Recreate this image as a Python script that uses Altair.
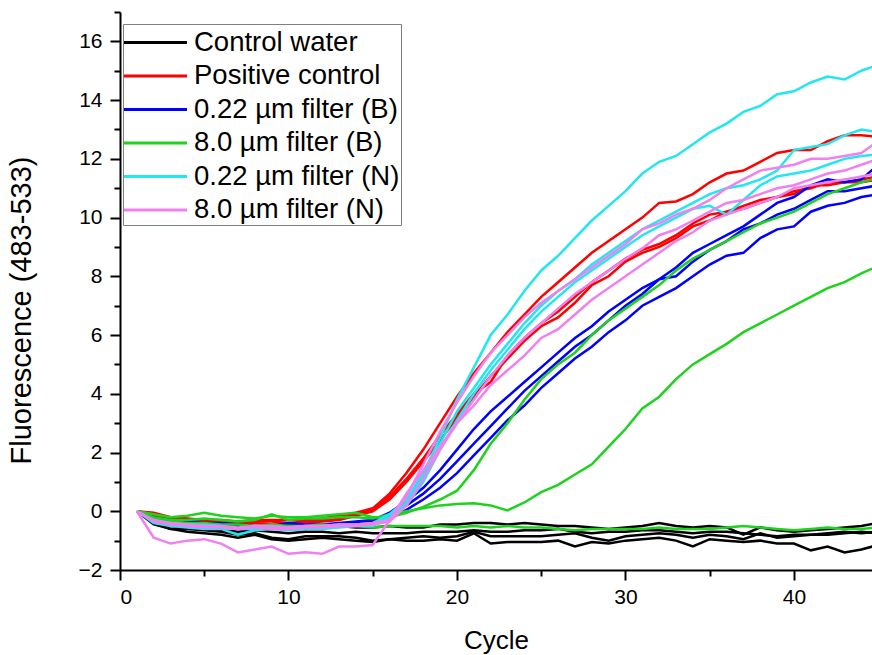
import altair as alt
import pandas as pd

cycles = list(range(1, 46))

series_names = ["Control water", "Positive control", "0.22 µm filter (B)",
                "8.0 µm filter (B)", "0.22 µm filter (N)", "8.0 µm filter (N)"]
series_colors = ["#000000", "#ff0000", "#0000ff", "#1ed21e", "#22e6f0", "#f080f0"]

water_1 = [0.0, -0.3, -0.4, -0.45, -0.5, -0.45, -0.5, -0.55, -0.5, -0.55, -0.55, -0.5, -0.5, -0.55, -0.55,
           -0.5, -0.55, -0.55, -0.45, -0.45, -0.4, -0.4, -0.45, -0.4, -0.45, -0.5, -0.5, -0.55, -0.6, -0.55,
           -0.5, -0.4, -0.5, -0.55, -0.5, -0.55, -0.8, -0.55, -0.65, -0.7, -0.65, -0.6, -0.55, -0.5, -0.4]
water_2 = [0.0, -0.35, -0.5, -0.55, -0.6, -0.65, -0.7, -0.65, -0.7, -0.75, -0.7, -0.7, -0.75, -0.7, -0.75,
           -0.75, -0.75, -0.7, -0.7, -0.7, -0.65, -0.7, -0.7, -0.65, -0.65, -0.6, -0.7, -0.75, -0.7, -0.7,
           -0.65, -0.65, -0.7, -0.75, -0.7, -0.7, -0.75, -0.8, -0.85, -0.8, -0.8, -0.75, -0.7, -0.75, -0.7]
water_3 = [0.0, -0.4, -0.6, -0.6, -0.65, -0.7, -0.8, -0.75, -0.9, -0.95, -0.85, -0.85, -0.85, -0.9, -1.0,
           -0.95, -0.9, -0.85, -0.9, -0.85, -0.7, -0.85, -0.85, -0.85, -0.85, -0.8, -0.75, -0.9, -1.0, -0.85,
           -0.8, -0.75, -0.8, -0.9, -0.8, -0.85, -0.95, -0.75, -0.9, -0.85, -0.8, -0.8, -0.75, -0.7, -0.75]
water_4 = [0.0, -0.45, -0.6, -0.7, -0.75, -0.8, -0.9, -0.8, -0.95, -1.0, -0.95, -0.9, -0.95, -1.0, -1.05,
           -0.95, -1.0, -1.0, -0.95, -1.0, -0.75, -1.1, -1.05, -1.05, -1.05, -1.0, -1.2, -1.05, -1.1, -1.0,
           -0.95, -0.9, -1.0, -1.2, -0.95, -1.0, -1.05, -1.0, -1.1, -1.1, -1.33, -1.2, -1.4, -1.3, -1.15]

pos_1 = [0.0, -0.05, -0.2, -0.25, -0.3, -0.3, -0.35, -0.3, -0.3, -0.3, -0.3, -0.25, -0.15, -0.05, 0.1,
         0.6, 1.3, 2.1, 3.0, 3.9, 4.7, 5.4, 6.1, 6.7, 7.3, 7.8, 8.3, 8.8, 9.2, 9.6,
         10.0, 10.5, 10.55, 10.8, 11.2, 11.5, 11.6, 11.9, 12.2, 12.3, 12.3, 12.6, 12.8, 12.8, 12.75]
pos_2 = [0.0, -0.1, -0.25, -0.3, -0.35, -0.35, -0.4, -0.35, -0.35, -0.4, -0.35, -0.3, -0.25, -0.1, 0.05,
         0.5, 1.1, 1.8, 2.6, 3.3, 4.0, 4.4, 5.3, 5.9, 6.4, 6.8, 7.3, 7.8, 8.2, 8.6,
         8.9, 9.1, 9.4, 9.8, 10.1, 10.2, 10.4, 10.6, 10.7, 10.9, 11.0, 11.2, 11.2, 11.3, 11.4]
pos_3 = [0.0, -0.15, -0.3, -0.35, -0.4, -0.4, -0.45, -0.4, -0.45, -0.45, -0.4, -0.35, -0.3, -0.15, 0.0,
         0.4, 1.0, 1.7, 2.4, 3.2, 3.9, 4.6, 5.2, 5.8, 6.3, 6.6, 7.1, 7.7, 8.0, 8.5,
         8.8, 9.0, 9.3, 9.7, 9.9, 10.2, 10.3, 10.5, 10.7, 10.8, 11.1, 11.1, 11.2, 11.2, 11.3]

b022_1 = [0.0, -0.2, -0.3, -0.35, -0.4, -0.4, -0.45, -0.5, -0.5, -0.4, -0.45, -0.45, -0.4, -0.35, -0.3,
          -0.05, 0.35, 0.8, 1.4, 2.1, 2.8, 3.4, 3.9, 4.4, 4.9, 5.4, 5.9, 6.3, 6.8, 7.2,
          7.6, 7.9, 8.3, 8.8, 9.1, 9.4, 9.7, 10.1, 10.5, 10.7, 11.1, 11.3, 11.2, 11.3, 11.8]
b022_2 = [0.0, -0.25, -0.35, -0.4, -0.45, -0.45, -0.5, -0.55, -0.5, -0.5, -0.55, -0.5, -0.45, -0.4, -0.35,
          -0.15, 0.2, 0.6, 1.1, 1.7, 2.3, 2.9, 3.5, 4.1, 4.6, 5.1, 5.6, 6.0, 6.5, 7.0,
          7.4, 7.9, 8.0, 8.5, 8.9, 9.2, 9.6, 9.8, 10.1, 10.3, 10.6, 10.9, 10.9, 11.0, 11.1]
b022_3 = [0.0, -0.3, -0.4, -0.4, -0.5, -0.5, -0.55, -0.6, -0.55, -0.6, -0.6, -0.55, -0.5, -0.45, -0.4,
          -0.25, 0.05, 0.4, 0.8, 1.3, 1.9, 2.5, 3.1, 3.6, 4.2, 4.7, 5.2, 5.6, 6.1, 6.5,
          7.0, 7.3, 7.6, 8.0, 8.4, 8.7, 8.8, 9.3, 9.6, 9.7, 10.2, 10.4, 10.5, 10.7, 10.8]

b80_1 = [0.0, -0.1, -0.2, -0.15, -0.05, -0.15, -0.2, -0.25, -0.15, -0.2, -0.2, -0.15, -0.1, -0.05, -0.2,
         -0.2, -0.05, 0.15, 0.4, 0.7, 1.4, 2.3, 3.0, 3.8, 4.5, 5.0, 5.4, 6.0, 6.5, 6.9,
         7.3, 7.7, 8.2, 8.6, 8.9, 9.2, 9.5, 9.8, 10.0, 10.2, 10.5, 10.8, 11.0, 11.2, 11.35]
b80_2 = [0.0, -0.2, -0.3, -0.3, -0.25, -0.3, -0.35, -0.3, -0.1, -0.3, -0.25, -0.25, -0.2, -0.2, -0.25,
         -0.1, 0.0, 0.1, 0.2, 0.25, 0.27, 0.2, 0.03, 0.3, 0.65, 0.9, 1.25, 1.6, 2.2, 2.8,
         3.5, 3.9, 4.5, 5.0, 5.35, 5.7, 6.1, 6.4, 6.7, 7.0, 7.3, 7.6, 7.8, 8.1, 8.35]
b80_3 = [0.0, -0.25, -0.35, -0.4, -0.4, -0.45, -0.45, -0.5, -0.45, -0.5, -0.5, -0.45, -0.5, -0.5, -0.55,
         -0.5, -0.5, -0.5, -0.5, -0.55, -0.5, -0.55, -0.5, -0.55, -0.55, -0.6, -0.65, -0.6, -0.6, -0.6,
         -0.6, -0.55, -0.6, -0.6, -0.6, -0.55, -0.5, -0.55, -0.6, -0.65, -0.6, -0.55, -0.6, -0.6, -0.55]

n022_1 = [0.0, -0.35, -0.4, -0.45, -0.45, -0.5, -0.6, -0.55, -0.5, -0.55, -0.5, -0.5, -0.45, -0.45, -0.4,
          -0.1, 0.4, 1.3, 2.5, 3.8, 4.9, 6.0, 6.7, 7.5, 8.2, 8.7, 9.3, 9.9, 10.4, 10.9,
          11.5, 11.9, 12.1, 12.5, 12.9, 13.2, 13.6, 13.8, 14.2, 14.3, 14.6, 14.8, 14.7, 15.0, 15.2]
n022_2 = [0.0, -0.3, -0.45, -0.5, -0.5, -0.55, -0.6, -0.6, -0.55, -0.6, -0.55, -0.5, -0.5, -0.45, -0.45,
          -0.2, 0.3, 1.2, 2.3, 3.4, 4.2, 5.0, 5.7, 6.4, 7.0, 7.5, 7.9, 8.4, 8.8, 9.2,
          9.6, 9.9, 10.2, 10.5, 10.8, 11.0, 11.1, 11.3, 11.6, 12.3, 12.4, 12.5, 12.8, 13.0, 12.9]
n022_3 = [0.0, -0.4, -0.5, -0.55, -0.6, -0.6, -0.8, -0.65, -0.6, -0.65, -0.6, -0.6, -0.55, -0.5, -0.5,
          -0.25, 0.2, 1.0, 2.1, 3.1, 4.0, 4.8, 5.5, 6.2, 6.8, 7.3, 7.8, 8.2, 8.6, 9.0,
          9.4, 9.7, 10.0, 10.3, 10.4, 10.1, 10.6, 11.1, 11.4, 11.5, 11.6, 11.8, 12.0, 12.1, 12.15]

n80_1 = [0.0, -0.3, -0.4, -0.45, -0.5, -0.5, -0.55, -0.5, -0.5, -0.55, -0.5, -0.5, -0.45, -0.45, -0.4,
         -0.3, 0.5, 1.6, 2.7, 3.7, 4.6, 5.4, 6.0, 6.6, 7.1, 7.5, 7.9, 8.3, 8.7, 9.1,
         9.6, 9.8, 10.1, 10.3, 10.6, 11.0, 11.3, 11.6, 11.7, 11.8, 12.0, 12.0, 12.1, 12.2, 12.6]
n80_2 = [0.0, -0.35, -0.45, -0.5, -0.55, -0.55, -0.6, -0.55, -0.6, -0.6, -0.55, -0.55, -0.5, -0.5, -0.45,
         -0.35, 0.2, 1.1, 2.1, 3.0, 3.8, 4.6, 5.3, 5.9, 6.4, 6.9, 7.4, 7.8, 8.2, 8.6,
         8.95, 9.4, 9.6, 9.9, 10.2, 10.5, 10.6, 10.8, 11.0, 11.1, 11.3, 11.5, 11.6, 11.8, 12.0]
n80_3 = [0.0, -0.9, -1.1, -1.0, -0.95, -1.1, -1.4, -1.3, -1.2, -1.45, -1.4, -1.45, -1.2, -1.2, -1.15,
         -0.3, 0.6, 1.4, 2.2, 3.0, 3.6, 4.3, 4.8, 5.3, 5.9, 6.2, 6.7, 7.2, 7.6, 8.0,
         8.4, 8.8, 9.2, 9.5, 9.9, 10.1, 10.3, 10.5, 10.7, 11.0, 11.1, 11.2, 11.3, 11.4, 11.5]

curves = [
    ("Control water", "w1", water_1), ("Control water", "w2", water_2),
    ("Control water", "w3", water_3), ("Control water", "w4", water_4),
    ("Positive control", "p1", pos_1), ("Positive control", "p2", pos_2), ("Positive control", "p3", pos_3),
    ("0.22 µm filter (B)", "b1", b022_1), ("0.22 µm filter (B)", "b2", b022_2), ("0.22 µm filter (B)", "b3", b022_3),
    ("8.0 µm filter (B)", "g1", b80_1), ("8.0 µm filter (B)", "g2", b80_2), ("8.0 µm filter (B)", "g3", b80_3),
    ("0.22 µm filter (N)", "c1", n022_1), ("0.22 µm filter (N)", "c2", n022_2), ("0.22 µm filter (N)", "c3", n022_3),
    ("8.0 µm filter (N)", "m1", n80_1), ("8.0 µm filter (N)", "m2", n80_2), ("8.0 µm filter (N)", "m3", n80_3),
]

rows = []
for order, (name, cid, vals) in enumerate(curves):
    for c, v in zip(cycles, vals):
        rows.append({"series": name, "curve": cid, "order": order, "cycle": c, "value": v})
df = pd.DataFrame(rows)

x_major = [0, 10, 20, 30, 40]
x_minor = [5, 15, 25, 35]
y_major = [-2, 0, 2, 4, 6, 8, 10, 12, 14, 16]
y_minor = [-1, 1, 3, 5, 7, 9, 11, 13, 15, 17]

FONT = "Liberation Sans"
x_scale = alt.Scale(domain=[0, 44.63], nice=False, zero=False)
y_scale = alt.Scale(domain=[-2, 17], nice=False, zero=False)

lines = alt.Chart(df).mark_line(strokeWidth=2.5, clip=True).encode(
    x=alt.X("cycle:Q", scale=x_scale,
            axis=alt.Axis(values=x_major, title="Cycle", orient="bottom", tickSize=10,
                          labelPadding=6, titlePadding=20, titleFontSize=26, format="d")),
    y=alt.Y("value:Q", scale=y_scale,
            axis=alt.Axis(values=y_major, title="Fluorescence (483-533)", orient="left",
                          tickSize=10, labelPadding=8, titlePadding=42, titleFontSize=29,
                          titleY=298, format="d")),
    color=alt.Color("series:N", scale=alt.Scale(domain=series_names, range=series_colors),
                    legend=alt.Legend(title=None, orient="none", legendX=3, legendY=12,
                                      symbolType="M-2,0H2", symbolSize=992, symbolStrokeWidth=3,
                                      symbolOffset=14, labelOffset=21, labelLimit=0,
                                      labelFontSize=27.5, labelFont=FONT, labelColor="#000000",
                                      strokeColor="#808080", fillColor="#ffffff", padding=1,
                                      rowPadding=2.5)),
    detail="curve:N",
    order="order:Q",
)

minor = alt.Chart(df).mark_point(opacity=0, clip=True).encode(
    x=alt.X("cycle:Q", scale=x_scale,
            axis=alt.Axis(values=x_minor, labels=False, title=None, domain=False,
                          tickSize=6, orient="bottom")),
    y=alt.Y("value:Q", scale=y_scale,
            axis=alt.Axis(values=y_minor, labels=False, title=None, domain=False,
                          tickSize=6, orient="left")),
)

chart = alt.layer(lines, minor).resolve_axis(x="independent", y="independent").properties(
    width=752, height=558,
    autosize=alt.AutoSizeParams(type="none"),
    padding={"left": 120, "top": 12, "right": 0, "bottom": 85},
    background="#ffffff",
).configure_view(stroke=None).configure_axis(
    grid=False, domainColor="#000000", domainWidth=2, tickColor="#000000", tickWidth=2,
    labelFont=FONT, labelFontSize=21, labelColor="#000000",
    titleFont=FONT, titleFontWeight="normal", titleColor="#000000",
)

chart.save("out.html", embed_options={"renderer": "svg", "actions": False})
